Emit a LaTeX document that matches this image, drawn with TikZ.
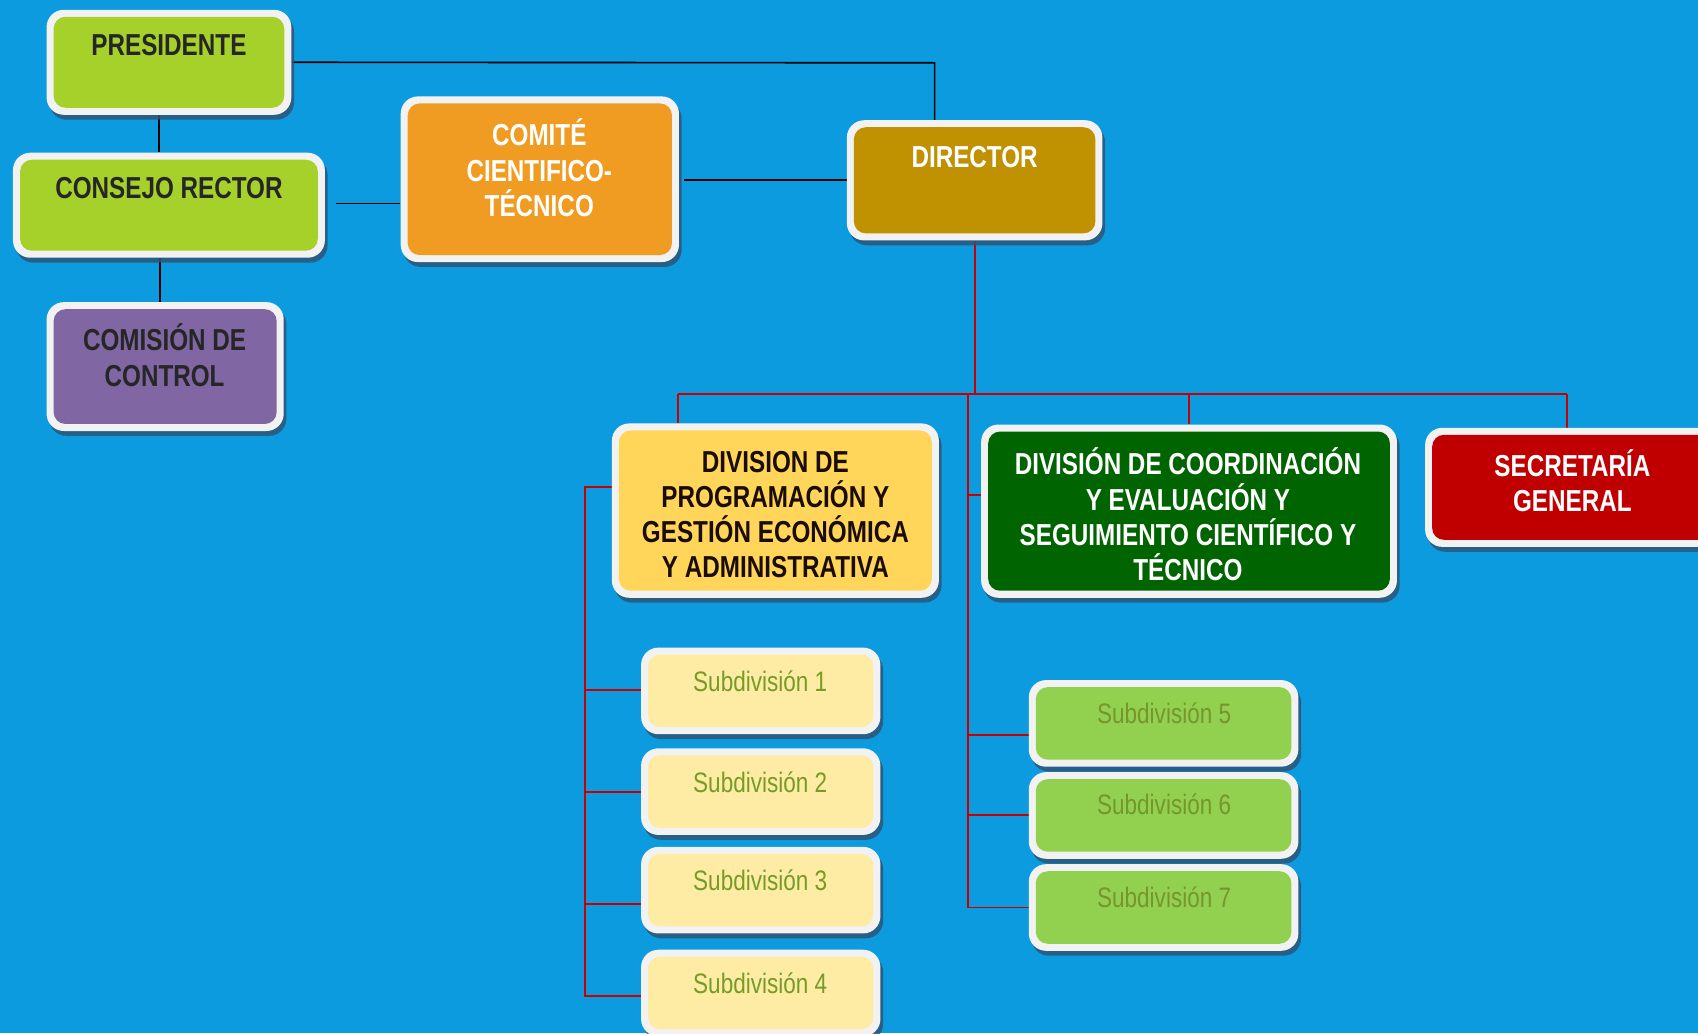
\documentclass[tikz,border=0pt]{standalone}
\usepackage{fontspec}
\setmainfont{Liberation Sans}[FakeStretch=0.8]
\usetikzlibrary{shadows,calc}
\definecolor{bgblue}{RGB}{12,155,223}
\definecolor{bwhite}{RGB}{242,242,242}
\definecolor{limeg}{RGB}{166,209,42}
\definecolor{purp}{RGB}{128,102,163}
\definecolor{orng}{RGB}{240,156,34}
\definecolor{gold}{RGB}{192,145,0}
\definecolor{yell}{RGB}{255,213,90}
\definecolor{dkgreen}{RGB}{0,100,0}
\definecolor{redb}{RGB}{192,0,0}
\definecolor{paley}{RGB}{254,235,164}
\definecolor{subg}{RGB}{146,209,79}
\definecolor{subtxtA}{RGB}{118,156,40}
\definecolor{subtxtB}{RGB}{118,150,45}
\definecolor{darktxt}{RGB}{38,38,38}
\definecolor{blacktxt}{RGB}{26,12,0}
\definecolor{linered}{RGB}{200,0,0}
\definecolor{shadowc}{RGB}{45,85,120}
\pgfdeclarelayer{back}
\pgfdeclarelayer{bg}
\pgfsetlayers{back,bg,main}
\newcommand\bigfont{\bfseries\fontsize{28}{32.5}\selectfont}
\newcommand\subfont{\fontsize{26}{30}\selectfont}
\begin{document}
\begin{tikzpicture}[x=1pt,y=-1pt,
  box/.style={rectangle, rounded corners=16pt, fill=bwhite, inner sep=0pt,
    drop shadow={shadow xshift=2.5pt, shadow yshift=-4.5pt, fill=shadowc, opacity=0.85},
    path picture={\fill[#1, rounded corners=11pt]
      ([shift={(6.5pt,-6.5pt)}]path picture bounding box.north west) rectangle
      ([shift={(-6.5pt,6.5pt)}]path picture bounding box.south east);}},
  txt/.style={inner sep=0pt, align=center, font=\bigfont},
  stxt/.style={inner sep=0pt, align=center, font=\subfont},
  blk/.style={draw=black, line width=1.5pt},
  rdl/.style={draw=linered, line width=1.8pt}]
\begin{pgfonlayer}{back}
\fill[bgblue] (0,0) rectangle (1568,954);
\end{pgfonlayer}
\useasboundingbox (0,0) rectangle (1568,954);

% boxes
\node[box=limeg, minimum width=226, minimum height=97] (pres) at (156,57.5) {};
\node[box=limeg, minimum width=288, minimum height=97] (cons) at (156,189.5) {};
\node[box=purp, minimum width=219, minimum height=119] (comi) at (152.5,338.5) {};
\node[box=orng, minimum width=257, minimum height=153] (comt) at (498.5,165.5) {};
\node[box=gold, minimum width=236, minimum height=111] (dir) at (900,166.5) {};
\node[box=yell, minimum width=302, minimum height=161] (dprog) at (716,471.5) {};
\node[box=dkgreen, minimum width=384, minimum height=160] (dcoord) at (1098,472) {};
\node[box=redb, minimum width=272, minimum height=110] (sec) at (1452,450) {};
\node[box=paley, minimum width=221, minimum height=80] (s1) at (702.5,638) {};
\node[box=paley, minimum width=221, minimum height=80] (s2) at (702.5,731) {};
\node[box=paley, minimum width=221, minimum height=80] (s3) at (702.5,822) {};
\node[box=paley, minimum width=221, minimum height=80] (s4) at (702.5,917) {};
\node[box=subg, minimum width=249, minimum height=80] (s5) at (1074.5,668) {};
\node[box=subg, minimum width=249, minimum height=80] (s6) at (1074.5,753) {};
\node[box=subg, minimum width=249, minimum height=80] (s7) at (1074.5,838) {};

% texts
\node[txt, text=darktxt] (presT) at (156,42) {PRESIDENTE};
\node[txt, text=darktxt] (consT) at (156,174) {CONSEJO RECTOR};
\node[txt, text=darktxt] (comiT) at (152,328) {COMISIÓN DE\\CONTROL};
\node[txt, text=white] (comtT) at (498,155) {COMITÉ\\CIENTIFICO-\\TÉCNICO};
\node[txt, text=white] (dirT) at (900,145) {DIRECTOR};
\node[txt, text=blacktxt] (dprogT) at (716,475) {DIVISION DE\\PROGRAMACIÓN Y\\GESTIÓN ECONÓMICA\\Y ADMINISTRATIVA};
\node[txt, text=white] (dcoordT) at (1097,475) {DIVISIÓN DE COORDINACIÓN\\Y EVALUACIÓN Y\\SEGUIMIENTO CIENTÍFICO Y\\TÉCNICO};
\node[txt, text=white] (secT) at (1452,444) {SECRETARÍA\\GENERAL};
\node[stxt, text=subtxtA] (s1T) at (702,629) {Subdivisión 1};
\node[stxt, text=subtxtA] (s2T) at (702,722) {Subdivisión 2};
\node[stxt, text=subtxtA] (s3T) at (702,813) {Subdivisión 3};
\node[stxt, text=subtxtA] (s4T) at (702,908) {Subdivisión 4};
\node[stxt, text=subtxtB] (s5T) at (1075,659) {Subdivisión 5};
\node[stxt, text=subtxtB] (s6T) at (1075,743) {Subdivisión 6};
\node[stxt, text=subtxtB] (s7T) at (1075,829) {Subdivisión 7};

% helper coordinates
\coordinate (bend) at (863,58);
\coordinate (busL) at (626,364);
\coordinate (busR) at (1447,364);
\coordinate (tR) at (894,364);
\coordinate (tRs) at (894,457);
\coordinate (tL) at (540,450);
\coordinate (cr) at (310,188);
\coordinate (cd) at (632,166);

\begin{pgfonlayer}{bg}
\draw[blk] (pres.east) -- (bend) -- (bend |- dir.north);
\draw[blk] ([xshift=-9pt]pres.south) -- ([xshift=-9pt]cons.north);
\draw[blk] ([xshift=-8pt]cons.south) -- ([xshift=-8pt]cons.south |- comi.north);
\draw[blk] (cr) -- (cr -| comt.west);
\draw[blk] (cd) -- (cd -| dir.west);
\draw[rdl] (dir.south) -- (dir.south |- busL);
\draw[rdl] (busL) -- (busR);
\draw[rdl] (busL) -- (busL |- dprog.north);
\draw[rdl] (dcoord.north |- busL) -- (dcoord.north);
\draw[rdl] (busR) -- (busR |- sec.north);
\draw[rdl] (tR) -- (tR |- s7.west) -- (s7.west);
\draw[rdl] (tRs) -- (tRs -| dcoord.west);
\draw[rdl] ($(tR |- s5.west)+(0,11)$) -- ($(s5.west)+(0,11)$);
\draw[rdl] (tR |- s6.west) -- (s6.west);
\draw[rdl] (tL -| dprog.west) -- (tL) -- ($(tL |- s4.west)+(0,3)$) -- ($(s4.west)+(0,3)$);
\draw[rdl] ($(tL |- s1.west)+(0,-1)$) -- ($(s1.west)+(0,-1)$);
\draw[rdl] (tL |- s2.west) -- (s2.west);
\draw[rdl] ($(tL |- s3.west)+(0,13)$) -- ($(s3.west)+(0,13)$);
\end{pgfonlayer}
\end{tikzpicture}
\end{document}
